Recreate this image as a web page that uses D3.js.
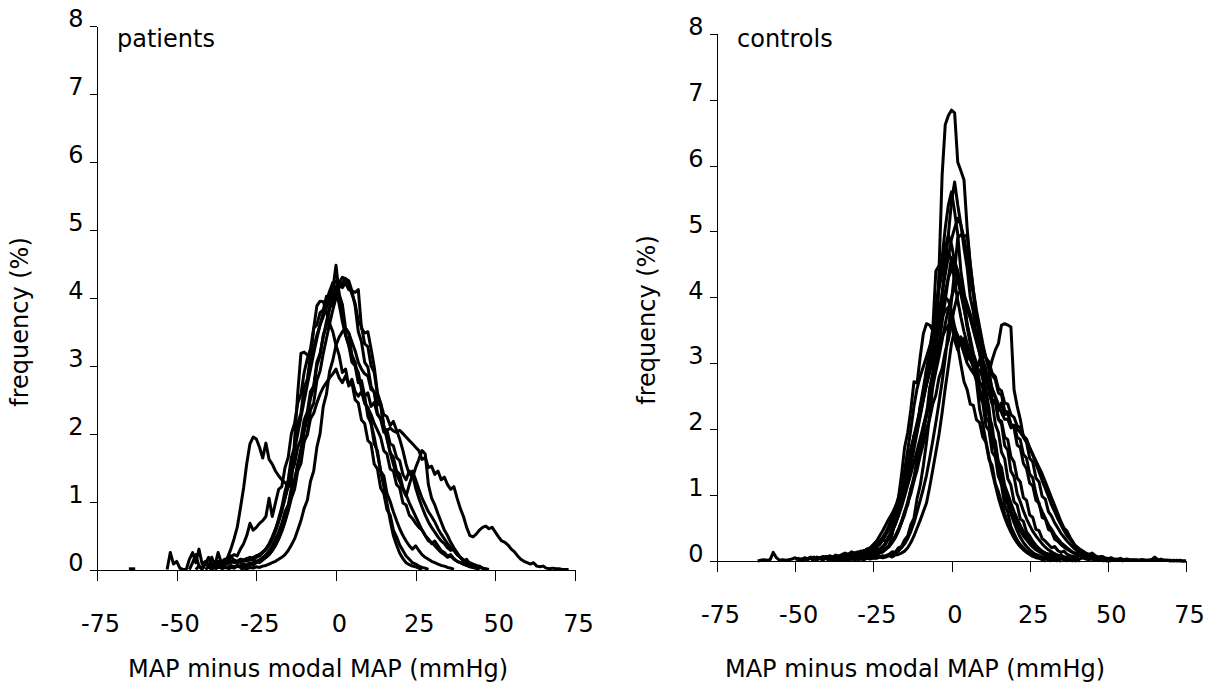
<!DOCTYPE html>
<meta charset="utf-8">
<script src="https://d3js.org/d3.v7.min.js"></script>
<style>
  body { margin: 0; background: #fff; }
  text { font-family: Verdana, "DejaVu Sans", sans-serif; font-size: 24px; fill: #000; }
</style>
<svg width="1214" height="688"></svg>
<script>
// tick values, shared by both panels
var xTicks = [-75, -50, -25, 0, 25, 50, 75];
var yTicks = [0, 1, 2, 3, 4, 5, 6, 7, 8];

// patients: frequency (%) in 1 mmHg steps, first value sits at patientStart[i]
var patientStart = [-41, -39, -46, -44, -38, -30, -36, -53, -34, -65];
var p1 = [0.00,0.04,0.00,0.06,0.03,0.08,0.12,0.18,0.30,0.45,
  0.62,0.90,1.20,1.56,1.85,1.95,1.92,1.80,1.64,1.86,
  1.62,1.55,1.45,1.38,1.32,1.28,1.22,1.25,1.90,2.60,
  3.18,3.20,3.16,3.08,3.55,3.88,3.95,3.94,3.80,3.62,
  3.50,3.30,3.15,2.90,2.95,2.70,2.75,2.50,2.45,2.20,
  2.15,1.90,1.85,1.55,1.48,1.20,1.12,0.88,0.80,0.58,
  0.48,0.36,0.28,0.20,0.15,0.10,0.08,0.05,0.03,0.02,
  0.00];
var p2 = [0.00,0.06,0.12,0.05,0.14,0.10,0.18,0.22,0.20,0.30,
  0.38,0.50,0.68,0.58,0.62,0.68,0.72,0.78,1.05,0.78,
  0.98,1.18,1.22,1.50,1.65,2.00,2.15,2.45,2.58,2.90,
  3.10,3.25,3.55,3.60,3.78,3.82,4.02,4.00,4.22,4.25,
  4.05,3.90,3.55,3.48,3.15,3.05,2.78,2.72,2.45,2.38,
  2.15,1.95,1.70,1.45,1.22,0.98,0.72,0.50,0.36,0.24,
  0.16,0.10,0.07,0.05,0.04,0.02,0.00];
var p3 = [0.00,0.10,0.22,0.05,0.00,0.08,0.18,0.06,0.02,0.10,
  0.05,0.08,0.12,0.10,0.14,0.12,0.15,0.14,0.16,0.15,
  0.18,0.20,0.22,0.25,0.30,0.36,0.45,0.58,0.75,0.92,
  1.15,1.32,1.65,1.80,2.15,2.30,2.68,2.80,3.15,3.25,
  3.45,3.60,3.72,3.85,3.98,4.12,4.48,4.05,3.70,3.45,
  3.30,3.05,3.00,2.75,2.78,2.55,2.60,2.40,2.46,2.28,
  2.22,2.02,2.05,1.85,1.82,1.65,1.60,1.40,1.32,1.45,
  1.35,1.50,1.62,1.75,1.70,1.25,1.05,0.95,0.82,0.70,
  0.58,0.50,0.40,0.32,0.25,0.18,0.12,0.15,0.08,0.05,
  0.06,0.03,0.02,0.00];
var p4 = [0.00,0.05,0.02,0.10,0.04,0.08,0.05,0.12,0.06,0.10,
  0.08,0.12,0.10,0.12,0.10,0.14,0.12,0.15,0.14,0.18,
  0.20,0.25,0.30,0.38,0.48,0.60,0.72,0.88,1.05,1.22,
  1.42,1.55,1.80,1.92,2.20,2.32,2.62,2.70,3.05,3.18,
  3.42,3.65,3.85,4.02,4.15,4.22,4.30,4.28,4.25,4.10,
  3.88,3.50,3.35,3.05,2.98,2.70,2.60,2.30,2.22,2.08,
  2.05,2.08,2.04,2.02,2.05,2.00,1.95,1.90,1.85,1.80,
  1.75,1.62,1.65,1.50,1.52,1.40,1.45,1.32,1.36,1.25,
  1.18,1.22,1.05,0.90,0.78,0.62,0.50,0.48,0.52,0.58,
  0.62,0.64,0.60,0.62,0.55,0.48,0.42,0.40,0.36,0.30,
  0.26,0.20,0.15,0.12,0.10,0.08,0.10,0.05,0.04,0.05,
  0.02,0.01,0.02,0.01,0.01,0.00,0.00,0.00];
var p5 = [0.00,0.04,0.02,0.05,0.03,0.06,0.04,0.06,0.05,0.08,
  0.06,0.10,0.08,0.12,0.10,0.14,0.18,0.22,0.28,0.35,
  0.45,0.58,0.72,0.90,1.10,1.32,1.55,1.78,2.02,2.25,
  2.52,2.68,3.00,3.15,3.45,3.58,3.85,3.92,4.10,4.20,
  4.15,4.22,4.12,4.10,4.08,4.12,3.55,3.48,3.50,3.25,
  2.98,2.60,2.45,2.10,1.95,1.72,1.65,1.45,1.40,1.20,
  1.10,0.98,0.88,0.78,0.68,0.58,0.50,0.42,0.40,0.35,
  0.30,0.25,0.22,0.18,0.20,0.15,0.12,0.10,0.08,0.06,
  0.04,0.03,0.02,0.00];
var p6 = [0.00,0.02,0.01,0.03,0.02,0.04,0.03,0.05,0.06,0.08,
  0.10,0.12,0.15,0.18,0.22,0.28,0.36,0.45,0.58,0.72,
  0.90,1.02,1.30,1.45,1.80,2.00,2.40,2.58,2.92,3.08,
  3.30,3.42,3.50,3.55,3.48,3.35,3.22,3.05,2.95,2.88,
  2.85,2.65,2.62,2.42,2.45,2.28,2.25,2.12,2.18,2.05,
  1.92,1.75,1.55,1.40,1.45,1.32,1.18,1.05,0.95,0.85,
  0.78,0.70,0.60,0.52,0.45,0.38,0.32,0.28,0.22,0.18,
  0.14,0.10,0.08,0.06,0.04,0.05,0.02,0.01,0.00];
var p7 = [0.00,0.03,0.02,0.05,0.03,0.06,0.05,0.08,0.06,0.08,
  0.10,0.12,0.14,0.18,0.22,0.28,0.35,0.45,0.55,0.68,
  0.85,0.95,1.20,1.28,1.55,1.65,1.90,1.98,2.22,2.30,
  2.45,2.58,2.68,2.75,2.82,2.88,2.95,2.82,2.75,2.85,
  2.72,2.80,2.62,2.55,2.62,2.45,2.38,2.28,2.15,2.05,
  1.95,1.75,1.70,1.48,1.45,1.25,1.20,0.98,0.95,0.80,
  0.75,0.68,0.62,0.58,0.50,0.45,0.38,0.42,0.35,0.28,
  0.25,0.20,0.22,0.16,0.12,0.10,0.08,0.06,0.05,0.03,
  0.02,0.00];
var p8 = [0.00,0.25,0.08,0.12,0.02,0.00,0.00,0.15,0.25,0.10,
  0.30,0.08,0.12,0.05,0.18,0.06,0.25,0.10,0.15,0.12,
  0.20,0.12,0.10,0.15,0.12,0.16,0.18,0.16,0.20,0.22,
  0.26,0.30,0.36,0.45,0.56,0.70,0.86,1.05,1.28,1.52,
  1.76,2.00,2.24,2.48,2.72,2.95,3.18,3.40,3.60,3.78,
  3.95,4.10,4.22,4.12,3.90,3.65,3.45,3.30,3.15,3.00,
  2.90,2.65,2.55,2.25,2.15,1.85,1.75,1.45,1.38,1.12,
  1.00,0.85,0.72,0.60,0.50,0.42,0.35,0.30,0.35,0.28,
  0.22,0.18,0.15,0.12,0.10,0.08,0.06,0.05,0.03,0.02,
  0.00];
var p9 = [0.00,0.03,0.02,0.05,0.03,0.06,0.05,0.08,0.06,0.10,
  0.12,0.15,0.18,0.22,0.28,0.36,0.45,0.56,0.70,0.86,
  1.05,1.18,1.45,1.56,1.88,2.00,2.35,2.45,2.78,2.92,
  3.18,3.40,3.62,3.82,4.00,4.15,4.22,4.28,4.20,4.05,
  3.92,3.65,3.58,3.32,3.28,3.00,2.90,2.58,2.42,2.12,
  1.92,1.72,1.55,1.40,1.30,1.18,1.08,1.25,1.40,1.20,
  1.05,0.92,0.80,0.70,0.62,0.55,0.48,0.42,0.38,0.32,
  0.28,0.30,0.22,0.18,0.14,0.12,0.10,0.08,0.06,0.04,
  0.02,0.00];
var p10 = [0.01,0.01,0.01];
var patients = [p1, p2, p3, p4, p5, p6, p7, p8, p9, p10];

// controls, same layout
var controlStart = [-30, -35, -40, -45, -38, -62, -50, -40, -36, -42, -48, -40, -45, -32, -38];
var c1 = [0.02,0.03,0.02,0.04,0.03,0.05,0.04,0.06,0.05,0.08,
  0.10,0.14,0.13,0.20,0.22,0.32,0.38,0.55,0.65,0.95,
  1.15,1.45,1.80,2.20,2.65,3.20,4.40,5.85,6.62,6.76,
  6.84,6.80,6.05,5.92,5.78,5.05,4.50,4.10,3.72,3.35,
  3.05,2.58,2.32,1.88,1.68,1.30,1.15,0.85,0.74,0.52,
  0.42,0.32,0.25,0.20,0.15,0.12,0.10,0.08,0.06,0.05,
  0.04,0.03,0.02,0.02,0.01,0.00];
var c2 = [0.03,0.02,0.05,0.03,0.06,0.04,0.07,0.05,0.08,0.06,
  0.09,0.10,0.12,0.14,0.18,0.22,0.28,0.36,0.46,0.58,
  0.75,0.85,1.10,1.22,1.55,1.68,2.05,2.20,2.62,2.85,
  3.22,3.60,4.05,4.50,4.95,5.45,5.75,5.40,5.10,4.75,
  4.45,4.00,3.78,3.35,3.15,2.75,2.58,2.20,2.05,1.68,
  1.48,1.26,1.05,0.88,0.72,0.58,0.46,0.36,0.28,0.22,
  0.17,0.13,0.10,0.08,0.06,0.05,0.04,0.03,0.02,0.00];
var c3 = [0.02,0.04,0.02,0.05,0.03,0.06,0.04,0.05,0.07,0.05,
  0.08,0.06,0.10,0.08,0.12,0.14,0.12,0.16,0.20,0.26,
  0.36,0.42,0.62,0.70,0.98,1.08,1.42,1.52,1.90,2.02,
  2.35,2.62,2.90,3.20,3.52,3.85,4.20,4.60,5.05,5.40,
  5.60,5.30,4.95,4.40,4.08,3.58,3.35,2.90,2.72,2.30,
  2.08,1.82,1.58,1.35,1.15,0.96,0.80,0.66,0.54,0.44,
  0.35,0.28,0.22,0.18,0.14,0.11,0.09,0.07,0.05,0.04,
  0.03,0.02,0.00];
var c4 = [0.02,0.03,0.02,0.04,0.02,0.05,0.03,0.04,0.06,0.04,
  0.05,0.07,0.05,0.08,0.06,0.09,0.08,0.11,0.10,0.14,
  0.16,0.20,0.25,0.32,0.40,0.50,0.62,0.76,0.92,1.10,
  1.28,1.48,1.68,1.88,2.08,2.30,2.52,2.75,3.00,3.25,
  3.50,3.78,4.05,4.35,4.62,4.88,5.05,5.20,5.10,4.90,
  4.65,4.25,4.05,3.62,3.48,3.05,2.92,2.55,2.42,2.08,
  1.95,1.65,1.55,1.25,1.15,0.90,0.85,0.64,0.60,0.44,
  0.38,0.30,0.24,0.19,0.15,0.12,0.10,0.08,0.06,0.05,
  0.04,0.03,0.04,0.02,0.01,0.00];
var c5 = [0.02,0.01,0.03,0.02,0.04,0.02,0.03,0.05,0.03,0.04,
  0.05,0.04,0.06,0.05,0.07,0.06,0.08,0.07,0.09,0.10,
  0.12,0.15,0.20,0.26,0.34,0.45,0.58,0.75,0.92,1.10,
  1.30,1.55,1.82,2.10,2.40,2.72,3.08,3.50,3.95,4.40,
  4.90,4.95,4.92,4.95,4.50,4.10,3.80,3.55,3.30,3.08,
  2.90,2.58,2.48,2.15,2.08,1.75,1.68,1.36,1.28,1.02,
  0.90,0.76,0.64,0.54,0.45,0.38,0.32,0.26,0.21,0.17,
  0.14,0.11,0.09,0.07,0.06,0.05,0.04,0.03,0.02,0.00];
var c6 = [0.00,0.01,0.02,0.01,0.02,0.13,0.05,0.01,0.02,0.01,
  0.02,0.03,0.05,0.02,0.03,0.02,0.04,0.06,0.03,0.05,
  0.04,0.03,0.06,0.04,0.05,0.08,0.05,0.06,0.07,0.09,
  0.08,0.10,0.12,0.10,0.14,0.16,0.20,0.24,0.30,0.38,
  0.46,0.55,0.64,0.72,0.82,0.92,1.05,1.18,1.35,1.55,
  1.82,1.98,2.35,2.50,2.90,3.05,3.48,3.68,4.12,4.38,
  4.75,4.95,4.80,4.55,4.40,4.10,3.85,3.55,3.30,3.05,
  2.85,2.50,2.40,2.05,1.98,1.65,1.58,1.28,1.22,0.96,
  0.86,0.74,0.63,0.54,0.46,0.40,0.34,0.28,0.24,0.20,
  0.17,0.14,0.12,0.10,0.12,0.08,0.07,0.09,0.06,0.05,
  0.04,0.06,0.04,0.03,0.05,0.03,0.02,0.04,0.02,0.03,
  0.02,0.01,0.03,0.02,0.01,0.02,0.01,0.02,0.01,0.01,
  0.02,0.01,0.01,0.02,0.01,0.01,0.02,0.06,0.02,0.01,
  0.01,0.01,0.00,0.01,0.00,0.01,0.00,0.00];
var c7 = [0.02,0.04,0.02,0.05,0.03,0.04,0.06,0.03,0.05,0.07,
  0.05,0.08,0.06,0.09,0.07,0.10,0.12,0.10,0.14,0.12,
  0.10,0.12,0.10,0.14,0.12,0.15,0.18,0.16,0.20,0.18,
  0.22,0.40,0.65,0.95,1.30,1.72,1.95,2.30,2.72,2.70,
  3.10,3.45,3.60,3.58,3.50,4.40,4.48,4.55,4.62,4.70,
  4.55,4.25,3.95,3.70,3.48,3.30,3.12,2.95,2.78,2.60,
  2.48,2.18,2.10,1.78,1.70,1.38,1.32,1.02,0.98,0.75,
  0.66,0.55,0.46,0.38,0.32,0.26,0.21,0.17,0.14,0.11,
  0.09,0.07,0.06,0.05,0.04,0.03,0.03,0.02,0.01,0.00];
var c8 = [0.03,0.05,0.03,0.06,0.04,0.07,0.05,0.08,0.10,0.08,
  0.12,0.10,0.14,0.18,0.15,0.22,0.28,0.25,0.32,0.30,
  0.36,0.45,0.56,0.70,0.86,1.04,1.24,1.46,1.70,1.95,
  2.20,2.45,2.70,2.95,3.18,3.40,3.62,3.85,4.08,4.30,
  4.42,4.50,4.38,4.20,4.02,3.85,3.68,3.50,3.32,3.15,
  3.02,2.78,2.72,2.45,2.42,2.15,2.12,1.88,1.84,1.58,
  1.50,1.26,1.20,0.96,0.92,0.70,0.66,0.48,0.46,0.34,
  0.30,0.25,0.20,0.22,0.16,0.13,0.15,0.10,0.08,0.07,
  0.06,0.08,0.05,0.04,0.05,0.03,0.02,0.03,0.01,0.00];
var c9 = [0.02,0.04,0.03,0.05,0.04,0.06,0.05,0.07,0.06,0.08,
  0.10,0.12,0.15,0.18,0.22,0.28,0.35,0.44,0.55,0.68,
  0.82,0.98,1.15,1.32,1.50,1.68,1.86,2.05,2.25,2.45,
  2.65,2.88,3.10,3.35,3.60,3.82,4.00,4.15,4.30,4.22,
  4.05,3.90,3.75,3.60,3.45,3.32,3.20,3.08,2.95,2.82,
  2.75,2.55,2.52,2.28,2.26,2.05,2.02,1.76,1.72,1.48,
  1.40,1.18,1.14,0.92,0.88,0.66,0.64,0.48,0.45,0.33,
  0.30,0.25,0.21,0.18,0.15,0.12,0.10,0.08,0.06,0.05,
  0.04,0.03,0.02,0.03,0.02,0.01,0.00];
var c10 = [0.02,0.03,0.05,0.03,0.04,0.06,0.04,0.07,0.05,0.08,
  0.10,0.08,0.12,0.15,0.13,0.18,0.20,0.25,0.30,0.28,
  0.32,0.40,0.50,0.62,0.75,0.90,1.06,1.24,1.42,1.60,
  1.80,2.00,2.22,2.45,2.68,2.90,3.12,3.35,3.55,3.70,
  3.80,3.85,3.60,3.35,3.20,3.40,3.25,3.05,3.15,3.00,
  2.90,3.05,2.85,2.75,2.80,2.62,2.50,2.38,2.25,2.15,
  2.15,2.02,2.06,1.88,1.84,1.62,1.56,1.32,1.26,1.02,
  0.86,0.75,0.65,0.55,0.48,0.40,0.34,0.28,0.24,0.20,
  0.16,0.13,0.11,0.09,0.07,0.06,0.05,0.04,0.03,0.02,
  0.02,0.01,0.00];
var c11 = [0.02,0.04,0.02,0.05,0.03,0.06,0.04,0.05,0.07,0.05,
  0.06,0.08,0.06,0.09,0.07,0.10,0.08,0.12,0.14,0.12,
  0.15,0.18,0.16,0.20,0.24,0.30,0.36,0.44,0.54,0.66,
  0.80,0.96,1.12,1.30,1.50,1.70,1.90,2.10,2.30,2.50,
  2.68,2.85,3.00,3.15,3.28,3.40,3.50,3.58,3.62,3.55,
  3.40,3.30,3.38,3.20,3.05,2.95,2.85,2.90,2.78,2.70,
  2.85,3.05,3.20,3.30,3.58,3.60,3.58,3.55,2.60,2.35,
  2.15,1.88,1.80,1.56,1.50,1.26,1.20,0.98,0.94,0.75,
  0.68,0.58,0.50,0.42,0.36,0.30,0.25,0.20,0.16,0.13,
  0.10,0.08,0.07,0.06,0.05,0.04,0.03,0.02,0.01,0.00];
var c12 = [0.01,0.02,0.01,0.03,0.02,0.01,0.03,0.02,0.04,0.02,
  0.03,0.05,0.03,0.04,0.06,0.04,0.05,0.07,0.05,0.06,
  0.08,0.06,0.09,0.10,0.12,0.15,0.20,0.28,0.38,0.50,
  0.62,0.75,0.88,1.12,1.38,1.65,1.92,2.25,2.62,2.95,
  3.30,3.50,3.42,3.30,3.15,3.00,2.92,2.85,2.78,2.70,
  2.68,2.50,2.55,2.38,2.42,2.28,2.40,2.22,2.24,2.08,
  2.05,2.00,1.95,1.88,1.80,1.72,1.62,1.52,1.42,1.32,
  1.20,1.08,0.96,0.84,0.72,0.60,0.50,0.45,0.35,0.28,
  0.18,0.14,0.12,0.10,0.08,0.10,0.06,0.05,0.07,0.04,
  0.03,0.05,0.03,0.02,0.04,0.02,0.03,0.02,0.01,0.02,
  0.01,0.02,0.01,0.01,0.02,0.01,0.01,0.03,0.01,0.01,
  0.01,0.00,0.01,0.00,0.00,0.00];
var c13 = [0.02,0.03,0.02,0.05,0.03,0.04,0.06,0.04,0.05,0.08,
  0.06,0.09,0.07,0.10,0.12,0.10,0.14,0.16,0.14,0.18,
  0.22,0.28,0.26,0.32,0.30,0.38,0.50,0.65,0.85,1.10,
  1.38,1.68,2.00,2.35,2.62,2.80,2.95,3.10,3.25,3.40,
  3.55,3.70,3.85,4.00,3.95,3.80,3.55,3.25,2.98,2.72,
  2.60,2.38,2.36,2.14,2.10,1.88,1.80,1.54,1.45,1.18,
  1.05,0.88,0.72,0.58,0.46,0.36,0.28,0.22,0.17,0.13,
  0.10,0.07,0.05,0.04,0.02,0.00];
var c14 = [0.02,0.04,0.03,0.05,0.04,0.06,0.08,0.07,0.10,0.12,
  0.15,0.19,0.24,0.30,0.38,0.48,0.60,0.74,0.90,1.08,
  1.28,1.50,1.72,1.96,2.20,2.45,2.72,3.00,3.30,3.62,
  3.95,4.30,4.60,4.45,4.25,4.05,3.82,3.60,3.38,3.15,
  3.00,2.70,2.62,2.30,2.22,1.90,1.82,1.50,1.42,1.15,
  1.02,0.88,0.75,0.64,0.54,0.45,0.38,0.32,0.26,0.22,
  0.18,0.14,0.12,0.10,0.08,0.06,0.05,0.04,0.02,0.00];
var c15 = [0.02,0.03,0.02,0.04,0.03,0.05,0.04,0.06,0.05,0.07,
  0.06,0.08,0.10,0.09,0.12,0.15,0.14,0.18,0.22,0.28,
  0.35,0.45,0.58,0.70,0.88,1.02,1.22,1.38,1.60,1.78,
  2.00,2.15,2.38,2.52,2.78,2.92,3.18,3.35,3.62,3.85,
  4.05,4.10,3.95,3.82,3.70,3.55,3.48,3.30,3.25,3.08,
  3.02,2.85,2.80,2.62,2.58,2.40,2.38,2.22,2.18,2.05,
  2.02,1.90,1.85,1.72,1.60,1.48,1.35,1.22,1.10,0.98,
  0.85,0.75,0.64,0.55,0.46,0.38,0.32,0.26,0.22,0.18,
  0.15,0.12,0.10,0.12,0.08,0.06,0.07,0.05,0.04,0.03,
  0.02,0.03,0.01,0.00];
var controls = [c1, c2, c3, c4, c5, c6, c7, c8, c9, c10, c11, c12, c13, c14, c15];

var svg = d3.select("svg");

function drawPanel(p) {
  var x = d3.scaleLinear().domain([-75, 75]).range([p.left, p.right]);
  var y = d3.scaleLinear().domain([0, 8]).range([p.bottom, p.top]);
  var g = svg.append("g");

  var line = d3.line()
      .x(function(d) { return x(d[0]); })
      .y(function(d) { return y(d[1]); });

  // curves go under the axes
  g.append("g")
      .selectAll("path")
      .data(p.series)
      .enter().append("path")
      .attr("fill", "none")
      .attr("stroke", "#000")
      .attr("stroke-width", 3)
      .attr("stroke-linejoin", "round")
      .attr("d", function(vals, i) {
        var s = p.starts[i];
        return line(vals.map(function(v, k) { return [s + k, v]; }));
      });

  // plain hyphen for negatives, like the original
  var fmt = function(d) { return String(d); };

  var xa = g.append("g")
      .attr("transform", "translate(0," + p.bottom + ")")
      .call(d3.axisBottom(x).tickValues(xTicks).tickFormat(fmt)
        .tickSize(11).tickSizeOuter(0).tickPadding(34));
  xa.selectAll("text").attr("dx", 3);

  var ya = g.append("g")
      .attr("transform", "translate(" + p.left + ",0)")
      .call(d3.axisLeft(y).tickValues(yTicks).tickFormat(fmt)
        .tickSize(7).tickSizeOuter(0).tickPadding(6.5));
  ya.selectAll("text").attr("y", -7);

  g.selectAll(".domain, .tick line")
      .attr("stroke", "#000")
      .attr("stroke-width", 1)
      .attr("shape-rendering", "crispEdges");

  g.append("text")
      .attr("x", p.labelX).attr("y", 47)
      .text(p.name);

  g.append("text")
      .attr("text-anchor", "middle")
      .attr("x", p.xTitleX).attr("y", 677)
      .text("MAP minus modal MAP (mmHg)");

  g.append("text")
      .attr("text-anchor", "middle")
      .attr("transform", "translate(" + p.yTitleX + "," + p.yTitleY + ") rotate(-90)")
      .text("frequency (%)");
}

drawPanel({name: "patients", series: patients, starts: patientStart,
  left: 97, right: 575, bottom: 569.5, top: 26,
  labelX: 117, xTitleX: 318, yTitleX: 28, yTitleY: 322});

drawPanel({name: "controls", series: controls, starts: controlStart,
  left: 717, right: 1186, bottom: 561, top: 33.7,
  labelX: 737, xTitleX: 915, yTitleX: 655, yTitleY: 320});
</script>
